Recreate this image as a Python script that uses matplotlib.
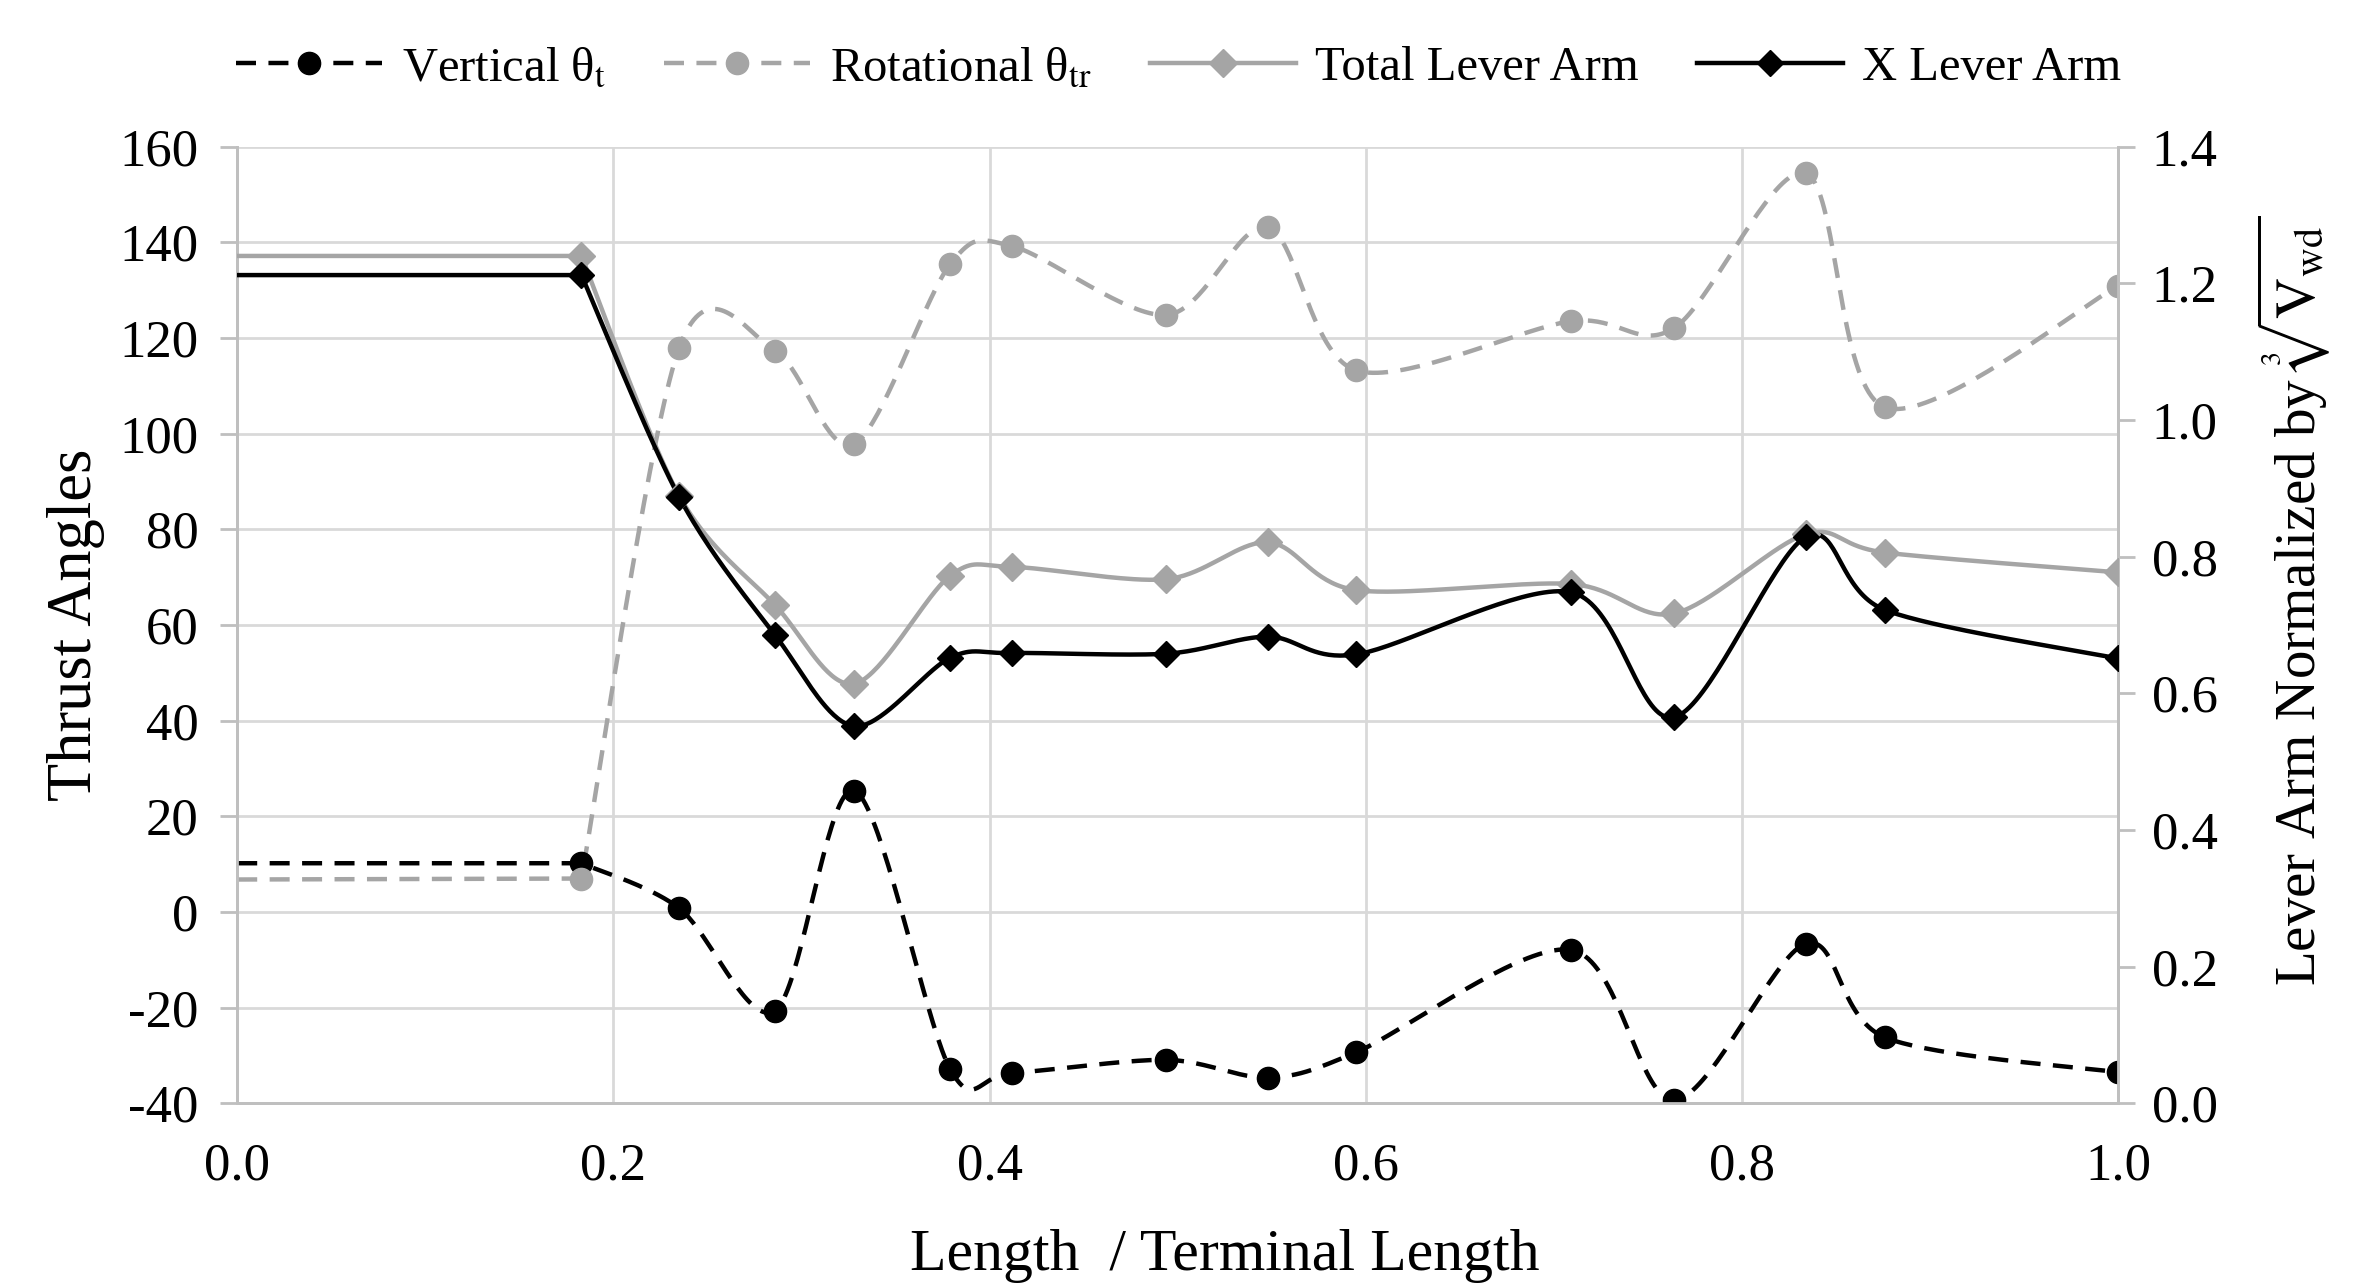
import numpy as np
import matplotlib.pyplot as plt
from matplotlib.lines import Line2D

plt.rcParams['font.family'] = ['Liberation Serif', 'DejaVu Serif']
plt.rcParams['mathtext.fontset'] = 'stix'
plt.rcParams['axes.unicode_minus'] = False

# data
x = [0.0, 0.183, 0.235, 0.286, 0.328, 0.379, 0.412, 0.494, 0.548, 0.595,
     0.709, 0.764, 0.834, 0.876, 1.0]
vertical = [10.2, 10.2, 0.8, -20.6, 25.4, -32.8, -33.6, -30.9, -34.6, -29.3,
            -7.9, -39.3, -6.6, -26.2, -33.5]
rotational = [6.8, 7.0, 118.0, 117.3, 97.8, 135.4, 139.2, 124.8, 143.1, 113.2,
              123.5, 122.1, 154.4, 105.5, 130.9]
total_arm = [1.240, 1.240, 0.889, 0.729, 0.614, 0.772, 0.785, 0.767, 0.821, 0.751,
             0.760, 0.717, 0.833, 0.806, 0.777]
x_arm = [1.212, 1.212, 0.887, 0.685, 0.552, 0.652, 0.659, 0.658, 0.683, 0.657,
         0.748, 0.565, 0.829, 0.722, 0.651]

left_ticks = list(range(-40, 161, 20))
right_ticks = [0.0, 0.2, 0.4, 0.6, 0.8, 1.0, 1.2, 1.4]
x_ticks = [0.0, 0.2, 0.4, 0.6, 0.8, 1.0]

GRAY = '#a5a5a5'
GRID = '#d9d9d9'
SPINE = '#bfbfbf'
LW = 3.2
DASH = (4.5, 2.8)


def smooth(xs, ys, ylim):
    # Excel-like smoothed line, computed in plot-area pixel space.
    # The first stretch is a flat hold and is drawn straight; smoothing
    # starts at the second point.
    sx, sy = 1880.0, 955.0 / (ylim[1] - ylim[0])
    p = np.column_stack([np.asarray(xs) * sx, np.asarray(ys) * sy])
    n = len(p)
    t = np.linspace(0, 1, 40)[:, None]
    out = [p[:2]]
    for i in range(1, n - 1):
        p0 = p[i]
        p3 = p[i + 1]
        p_prev = p[i - 1] if i > 1 else p[i]
        p_next2 = p[i + 2] if i + 2 < n else p[i + 1]
        c1 = p0 + (p3 - p_prev) / 6.5
        c2 = p3 - (p_next2 - p0) / 6.5
        seg = ((1 - t) ** 3) * p0 + 3 * ((1 - t) ** 2) * t * c1 \
            + 3 * (1 - t) * t ** 2 * c2 + t ** 3 * p3
        out.append(seg[1:])
    pts = np.vstack(out)
    return pts[:, 0] / sx, pts[:, 1] / sy


def draw_series(ax, xs, ys, ylim, color, dashed, marker, ms):
    sx_, sy_ = smooth(xs, ys, ylim)
    if dashed:
        ax.plot(sx_, sy_, color=color, lw=LW, ls='--', dashes=DASH, zorder=3)
    else:
        ax.plot(sx_, sy_, color=color, lw=LW, zorder=3)
    ax.plot(xs[1:], ys[1:], ls='none', marker=marker, ms=ms, color=color,
            mec=color, zorder=4)


fig, ax = plt.subplots(figsize=(23.72, 12.86), dpi=100)
fig.subplots_adjust(left=0.1, right=0.893, top=0.886, bottom=0.142)
ax2 = ax.twinx()

ax.set_xlim(0, 1)
ax.set_ylim(-40, 160)
ax2.set_ylim(0, 1.4)

draw_series(ax, x, vertical, (-40, 160), 'black', True, 'o', 16)
draw_series(ax, x, rotational, (-40, 160), GRAY, True, 'o', 16)
draw_series(ax2, x, total_arm, (0, 1.4), GRAY, False, 'D', 14)
draw_series(ax2, x, x_arm, (0, 1.4), 'black', False, 'D', 13)

ax.set_xticks(x_ticks)
ax.set_xticklabels(['%.1f' % t for t in x_ticks])
ax.set_yticks(left_ticks)
ax2.set_yticks(right_ticks)
ax2.set_yticklabels(['%.1f' % t for t in right_ticks])

ax.grid(True, color=GRID, lw=2)
ax.set_axisbelow(True)

for a in (ax, ax2):
    a.spines['top'].set_visible(False)
    for s in ('left', 'right', 'bottom'):
        a.spines[s].set_color(SPINE)
        a.spines[s].set_linewidth(2)
ax.tick_params(axis='y', length=12, width=2, color=SPINE, labelsize=38, pad=16)
ax.tick_params(axis='x', length=0, labelsize=38, pad=28)
ax2.tick_params(axis='y', length=12, width=2, color=SPINE, labelsize=38, pad=12)

ax.set_xlabel('Length  / Terminal Length', fontsize=43, labelpad=28, x=0.525)
ax.set_ylabel('Thrust Angles', fontsize=45, labelpad=10)
ax2.set_ylabel(r'Lever Arm Normalized by $\sqrt[3]{\mathrm{V_{wd}}}$',
               fontsize=41, labelpad=26, y=0.525)

handles = [
    Line2D([], [], color='black', ls='--', dashes=DASH, lw=LW, marker='o', ms=16),
    Line2D([], [], color=GRAY, ls='--', dashes=DASH, lw=LW, marker='o', ms=16),
    Line2D([], [], color=GRAY, ls='-', lw=LW, marker='D', ms=14),
    Line2D([], [], color='black', ls='-', lw=LW, marker='D', ms=13),
]
labels = [r'Vertical θ$_\mathrm{t}$', r'Rotational θ$_\mathrm{tr}$',
          'Total Lever Arm', 'X Lever Arm']
fig.legend(handles, labels, loc='center', bbox_to_anchor=(0.497, 0.947), ncol=4,
           frameon=False, fontsize=35, handlelength=3.0, columnspacing=1.2,
           handletextpad=0.4)

fig.savefig('out.png', dpi=100)
